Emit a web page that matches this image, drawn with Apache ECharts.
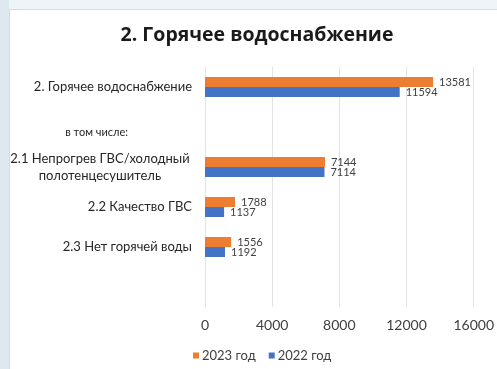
<!DOCTYPE html>
<html><head><meta charset="utf-8">
<script src="https://cdn.jsdelivr.net/npm/echarts@6/dist/echarts.min.js"></script>
<style>html,body{margin:0;padding:0;background:#fff}#c{width:497px;height:369px}</style>
</head><body><div id="c"></div>
<script>
const categories = ["2. Горячее водоснабжение", "в том числе:", "2.1 Непрогрев ГВС/холодный\nполотенцесушитель", "2.2 Качество ГВС", "2.3 Нет горячей воды", ""];
const values2023 = [13581, null, 7144, 1788, 1556, null];
const values2022 = [11594, null, 7114, 1137, 1192, null];
const xTicks = [0, 4000, 8000, 12000, 16000];
const seriesNames = ["2023 год", "2022 год"];

const chart = echarts.init(document.getElementById('c'), null, {renderer: 'canvas'});
const font = "Lato, sans-serif";
chart.setOption({
  backgroundColor: '#ffffff',
  animation: false,
  graphic: [
    {type: 'rect', z: -10, shape: {x: 0, y: 0, width: 497, height: 9}, style: {fill: '#eef4f7'}},
    {type: 'rect', z: -10, shape: {x: 0, y: 0, width: 9, height: 369}, style: {fill: '#dde9ef'}},
    {type: 'line', z: -9, shape: {x1: 9.5, y1: 9.5, x2: 497, y2: 9.5}, style: {stroke: '#d4dadd', lineWidth: 1}},
    {type: 'line', z: -9, shape: {x1: 9.5, y1: 9.5, x2: 9.5, y2: 369}, style: {stroke: '#d4dadd', lineWidth: 1}}
  ],
  title: {
    text: "2. Горячее водоснабжение",
    left: 252, top: 20, textAlign: 'center',
    textStyle: {fontFamily: "'Open Sans', sans-serif", fontWeight: 'bold', fontSize: 19.5, color: '#1a1a1a'}
  },
  legend: {
    data: seriesNames,
    left: 193, top: 349, padding: 0,
    itemWidth: 6, itemHeight: 6, itemGap: 13,
    icon: 'rect',
    textStyle: {fontFamily: font, fontSize: 13, color: '#404040', padding: [0, 0, 0, -2]}
  },
  grid: {left: 205, right: 20, top: 67, height: 240},
  xAxis: {
    type: 'value', min: 0, max: 16000, interval: 4000,
    axisLine: {show: false}, axisTick: {show: false},
    splitLine: {lineStyle: {color: '#e3e3e3'}},
    axisLabel: {fontFamily: font, fontSize: 14, color: '#404040', margin: 11,
      formatter: v => xTicks.includes(v) ? String(v) : ''}
  },
  yAxis: {
    type: 'category', data: categories, inverse: true,
    axisLine: {show: true, lineStyle: {color: '#e3e3e3'}}, axisTick: {show: false},
    axisLabel: {fontFamily: font, fontSize: 13, color: '#262626', margin: 13, align: 'right', lineHeight: 17,
      formatter: (v) => {
        if (v === "в том числе:") return '{s|' + v + '}';
        if (v.indexOf('\n') >= 0) return v.split('\n').map(l => '{c|' + l + '}').join('\n');
        return v;
      },
      rich: {
        s: {fontFamily: font, fontSize: 11, color: '#262626', padding: [10, 64, 0, 0]},
        c: {fontFamily: font, fontSize: 13, color: '#262626', width: 184, align: 'center', lineHeight: 17}
      }}
  },
  series: [
    {
      name: seriesNames[0], type: 'bar', data: values2023,
      barGap: '0%', barCategoryGap: '50%',
      itemStyle: {color: '#ED7D31'},
      label: {show: true, position: 'right', distance: 6, fontFamily: font, fontSize: 11, color: '#404040'}
    },
    {
      name: seriesNames[1], type: 'bar', data: values2022,
      barGap: '0%', barCategoryGap: '50%',
      itemStyle: {color: '#4472C4'},
      label: {show: true, position: 'right', distance: 6, fontFamily: font, fontSize: 11, color: '#404040'}
    }
  ]
});
</script></body></html>
